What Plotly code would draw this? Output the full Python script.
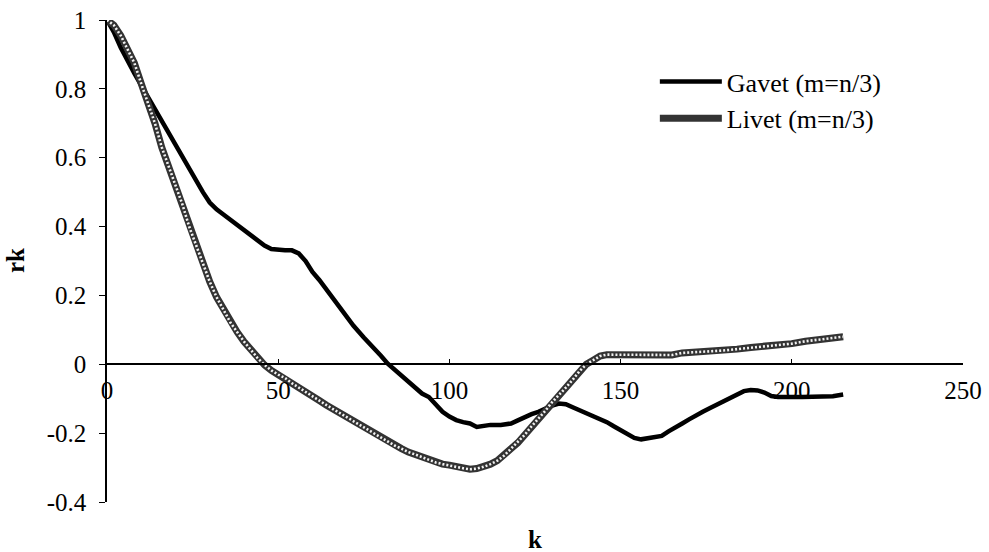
import plotly.graph_objects as go

# ---- data ----
gavet_k = [0, 2, 4, 6, 8, 10, 12, 14, 16, 18, 20, 22, 24, 26, 28, 30, 32, 34, 36, 38,
           40, 42, 44, 46, 48, 50, 52, 54, 56, 58, 60, 62, 65, 68, 70, 72, 75, 78, 80, 82,
           85, 88, 90, 92, 94, 96, 98, 100, 102, 104, 106, 108, 110, 112, 115, 118, 120,
           122, 124, 126, 128, 130, 132, 134, 136, 138, 140, 142, 144, 146, 148, 150, 152,
           154, 156, 158, 160, 162, 164, 166, 168, 170, 172, 174, 176, 178, 180, 182, 184,
           186, 188, 190, 192, 194, 196, 198, 200, 203, 206, 209, 212, 215]
gavet_r = [1.0, 0.965, 0.92, 0.88, 0.845, 0.81, 0.775, 0.745, 0.71, 0.675, 0.64, 0.60,
           0.565, 0.53, 0.50, 0.47, 0.45, 0.435, 0.42, 0.405, 0.39, 0.375, 0.357, 0.345,
           0.335, 0.332, 0.331, 0.331, 0.322, 0.30, 0.268, 0.245, 0.205, 0.165, 0.138,
           0.112, 0.078, 0.048, 0.025, 0.002, -0.025, -0.052, -0.07, -0.085, -0.095,
           -0.115, -0.138, -0.152, -0.162, -0.168, -0.172, -0.182, -0.178, -0.176, -0.176,
           -0.172, -0.163, -0.153, -0.145, -0.138, -0.128, -0.12, -0.114, -0.116, -0.125,
           -0.134, -0.143, -0.15, -0.158, -0.168, -0.18, -0.192, -0.204, -0.214, -0.218,
           -0.215, -0.212, -0.208, -0.195, -0.182, -0.172, -0.16, -0.148, -0.138, -0.128,
           -0.118, -0.108, -0.098, -0.088, -0.078, -0.075, -0.076, -0.082, -0.092, -0.095,
           -0.094, -0.095, -0.095, -0.095, -0.094, -0.093, -0.088]

livet_k = [0, 2, 4, 6, 8, 10, 12, 14, 16, 18, 20, 22, 24, 26, 28, 30, 32, 34, 36, 38,
           40, 42, 44, 46, 48, 50, 52, 54, 56, 58, 60, 62, 64, 66, 68, 70, 72, 74, 76, 78,
           80, 82, 84, 86, 88, 90, 92, 94, 96, 98, 100, 102, 104, 106, 108, 110, 112, 114,
           116, 118, 120, 122, 124, 126, 128, 130, 132, 134, 136, 138, 140, 142, 144, 146,
           150, 155, 160, 165, 168, 172, 176, 180, 184, 188, 192, 196, 200, 204, 208, 212, 215]
livet_r = [1.0, 0.985, 0.955, 0.915, 0.875, 0.815, 0.76, 0.70, 0.63, 0.575, 0.52, 0.465,
           0.40, 0.345, 0.29, 0.24, 0.195, 0.158, 0.122, 0.094, 0.066, 0.042, 0.018,
           -0.002, -0.018, -0.03, -0.04, -0.055, -0.068, -0.08, -0.092, -0.105, -0.118,
           -0.13, -0.142, -0.153, -0.165, -0.178, -0.19, -0.2, -0.212, -0.225, -0.236,
           -0.245, -0.255, -0.262, -0.27, -0.278, -0.285, -0.29, -0.293, -0.298, -0.302,
           -0.305, -0.303, -0.298, -0.29, -0.28, -0.265, -0.245, -0.228, -0.205, -0.18,
           -0.158, -0.135, -0.11, -0.09, -0.068, -0.045, -0.02, 0.0, 0.012, 0.024, 0.028,
           0.028, 0.027, 0.027, 0.027, 0.033, 0.035, 0.036, 0.040, 0.044, 0.049, 0.052,
           0.056, 0.06, 0.067, 0.072, 0.077, 0.08]

x_ticks = [0, 50, 100, 150, 200, 250]
y_ticks = [-0.4, -0.2, 0, 0.2, 0.4, 0.6, 0.8, 1]
y_tick_text = ["-0.4", "-0.2", "0", "0.2", "0.4", "0.6", "0.8", "1"]

FONT = "Liberation Serif, Times New Roman, serif"

fig = go.Figure()
fig.add_trace(go.Scatter(x=gavet_k, y=gavet_r, mode="lines", name="Gavet (m=n/3)",
                         line=dict(color="black", width=4.5)))
fig.add_trace(go.Scatter(x=livet_k, y=livet_r, mode="lines", name="Livet (m=n/3)",
                         line=dict(color="#333333", width=7)))
fig.add_trace(go.Scatter(x=livet_k, y=livet_r, mode="lines", showlegend=False,
                         hoverinfo="skip",
                         line=dict(color="#f2f2f2", width=2.6, dash="2px,2px")))

ymin, ymax = -0.4, 1.0
fig.update_layout(
    width=989, height=552,
    margin=dict(l=107, r=26, t=20, b=50, autoexpand=False),
    paper_bgcolor="white", plot_bgcolor="white",
    font=dict(family=FONT, size=25, color="black"),
    showlegend=True,
    legend=dict(x=0.640, y=0.921, xanchor="left", yanchor="top",
                bgcolor="rgba(0,0,0,0)", itemwidth=62,
                font=dict(family=FONT, size=26, color="black"),
                tracegroupgap=0),
    xaxis=dict(range=[0, 250], tickvals=x_ticks, showgrid=False, zeroline=False,
               showline=True, linecolor="black", linewidth=1.5,
               ticks="inside", ticklen=5, tickcolor="black",
               anchor="free", position=(0 - ymin) / (ymax - ymin),
               automargin=False, ticklabelstandoff=4,
               tickfont=dict(family=FONT, size=25)),
    yaxis=dict(range=[ymin, ymax], tickvals=y_ticks, ticktext=y_tick_text,
               showgrid=False, zeroline=False,
               showline=True, linecolor="black", linewidth=1.5,
               ticks="outside", ticklen=6, tickcolor="black",
               automargin=False, ticklabelstandoff=8,
               tickfont=dict(family=FONT, size=25)),
    annotations=[
        dict(text="<b>k</b>", x=0.5, y=0, xref="paper", yref="paper",
             xanchor="center", yanchor="middle", yshift=-37, showarrow=False,
             font=dict(family=FONT, size=25)),
        dict(text="<b>rk</b>", x=0, y=0.5, xref="paper", yref="paper",
             xanchor="center", yanchor="middle", xshift=-92, textangle=-90,
             showarrow=False, font=dict(family=FONT, size=25)),
    ],
)

fig.write_html("out.html",
               config={"displayModeBar": False},
               post_script="document.body.style.margin='0';document.body.style.overflow='hidden';")
